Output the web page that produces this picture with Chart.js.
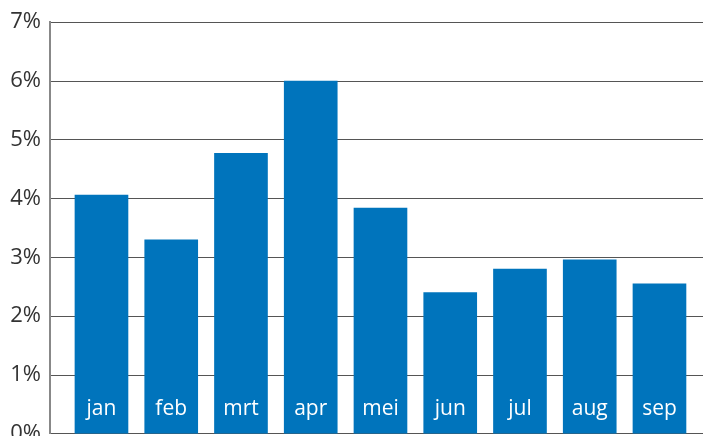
<!DOCTYPE html>
<html>
<head>
<meta charset="utf-8">
<script src="https://cdn.jsdelivr.net/npm/chart.js@4"></script>
<style>
  html, body { margin: 0; padding: 0; background: #fff; overflow: hidden; }
  #wrap { width: 703px; height: 456px; position: relative; }
</style>
</head>
<body>
<div id="wrap"><canvas id="chart"></canvas></div>
<script>
// maanden en percentages
const months = ['jan', 'feb', 'mrt', 'apr', 'mei', 'jun', 'jul', 'aug', 'sep'];
const values = [4.06, 3.30, 4.77, 6.00, 3.84, 2.40, 2.80, 2.96, 2.55];
const yTicks = [0, 1, 2, 3, 4, 5, 6, 7];

// labels wit onderin de balk
const barLabels = {
    id: 'barLabels',
    afterDatasetsDraw(chart) {
        const ctx = chart.ctx;
        const meta = chart.getDatasetMeta(0);
        const base = chart.scales.y.getPixelForValue(0);
        ctx.save();
        ctx.fillStyle = '#ffffff';
        ctx.font = '21px "Open Sans", sans-serif';
        ctx.textAlign = 'center';
        ctx.textBaseline = 'middle';
        meta.data.forEach((bar, i) => {
            ctx.fillText(months[i], bar.x, base - 25);
        });
        ctx.restore();
    }
};

new Chart(document.getElementById('chart'), {
    type: 'bar',
    data: {
        datasets: [{
            data: values.map((v, i) => ({ x: i, y: v })),
            backgroundColor: '#0074BC',
            barThickness: 53
        }]
    },
    options: {
        responsive: true,
        maintainAspectRatio: false,
        animation: false,
        layout: { padding: { top: 11, right: 0, left: 0, bottom: 0 } },
        plugins: { legend: { display: false }, tooltip: { enabled: false } },
        scales: {
            x: {
                type: 'linear',
                offset: false,
                min: -0.738,
                max: 8.624,
                display: false
            },
            y: {
                min: 0,
                max: 7,
                afterBuildTicks(scale) {
                    scale.ticks = yTicks.map(v => ({ value: v }));
                },
                afterFit(scale) { scale.width = 50; },
                grid: { color: '#555', lineWidth: 1, drawTicks: false },
                border: { color: '#888', width: 2 },
                ticks: {
                    color: '#333',
                    padding: 9,
                    font: { family: '"Open Sans", sans-serif', size: 22 },
                    callback: v => v + '%'
                }
            }
        }
    },
    plugins: [barLabels]
});
</script>
</body>
</html>
